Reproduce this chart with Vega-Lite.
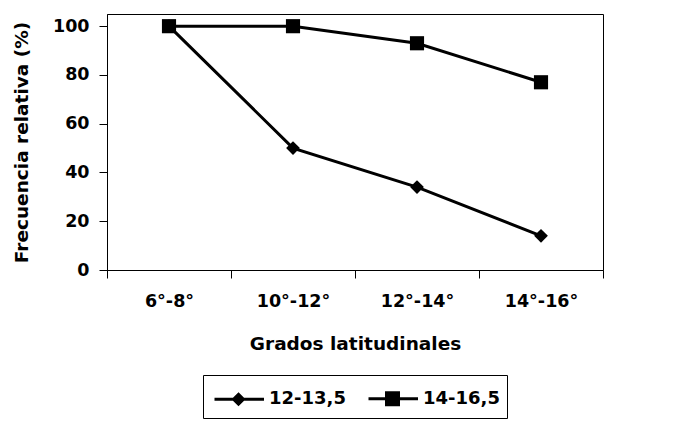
{
  "$schema": "https://vega.github.io/schema/vega-lite/v6.json",
  "width": 496,
  "height": 256,
  "padding": {"left": 12, "top": 14, "right": 5, "bottom": 0},
  "background": "white",
  "config": {
    "font": "DejaVu Sans",
    "view": {"stroke": "black", "strokeWidth": 1},
    "axis": {
      "labelFont": "DejaVu Sans", "labelFontWeight": "bold", "labelFontSize": 17.5, "labelColor": "black",
      "titleFont": "DejaVu Sans", "titleFontWeight": "bold", "titleFontSize": 18.5, "titleColor": "black",
      "domainColor": "black", "tickColor": "black", "grid": false
    },
    "legend": {
      "labelFont": "DejaVu Sans", "labelFontWeight": "bold", "labelFontSize": 18, "labelColor": "black",
      "layout": {"bottom": {"anchor": "middle"}}
    }
  },
  "data": {
    "values": [
      {"grado": "6°-8°", "serie": "12-13,5", "valor": 100},
      {"grado": "10°-12°", "serie": "12-13,5", "valor": 50},
      {"grado": "12°-14°", "serie": "12-13,5", "valor": 34},
      {"grado": "14°-16°", "serie": "12-13,5", "valor": 14},
      {"grado": "6°-8°", "serie": "14-16,5", "valor": 100},
      {"grado": "10°-12°", "serie": "14-16,5", "valor": 100},
      {"grado": "12°-14°", "serie": "14-16,5", "valor": 93},
      {"grado": "14°-16°", "serie": "14-16,5", "valor": 77}
    ]
  },
  "encoding": {
    "x": {
      "field": "grado", "type": "ordinal", "sort": null,
      "scale": {"type": "band", "paddingInner": 0, "paddingOuter": 0},
      "axis": {"title": "Grados latitudinales", "labelAngle": 0, "tickBand": "extent", "tickSize": 8, "labelPadding": 14, "titlePadding": 25}
    },
    "y": {
      "field": "valor", "type": "quantitative",
      "scale": {"domain": [0, 105], "nice": false},
      "axis": {"title": "Frecuencia relativa (%)", "values": [0, 20, 40, 60, 80, 100], "tickSize": 8, "labelPadding": 10, "titlePadding": 21}
    }
  },
  "resolve": {"scale": {"shape": "independent"}, "legend": {"shape": "independent"}},
  "layer": [
    {
      "mark": {"type": "point", "filled": false, "color": "black", "strokeWidth": 2.5, "size": 1, "opacity": 1},
      "encoding": {
        "shape": {
          "field": "serie", "type": "nominal",
          "scale": {
            "domain": ["12-13,5", "14-16,5"],
            "range": [
              "M-0.8,0H2.5M0.8,-0.33L1.13,0L0.8,0.33L0.47,0ZM0.8,-0.2L1,0L0.8,0.2L0.6,0ZM0.8,-0.07L0.87,0L0.8,0.07L0.73,0Z",
              "M-0.8,0H2.5M0.4,-0.4H1.2V0.4H0.4ZM0.53,-0.27H1.07V0.27H0.53ZM0.67,-0.13H0.93V0.13H0.67Z"
            ]
          },
          "legend": {
            "title": null, "orient": "bottom", "direction": "horizontal",
            "strokeColor": "black", "padding": 7, "offset": 22,
            "symbolSize": 900, "symbolStrokeWidth": 3, "symbolStrokeColor": "black", "symbolOpacity": 1,
            "columnPadding": 16, "labelOffset": 26
          }
        }
      }
    },
    {
      "mark": {"type": "line", "color": "black", "strokeWidth": 3},
      "encoding": {"detail": {"field": "serie"}}
    },
    {
      "mark": {"type": "point", "filled": true, "color": "black", "opacity": 1},
      "encoding": {
        "shape": {
          "field": "serie", "type": "nominal",
          "scale": {"domain": ["12-13,5", "14-16,5"], "range": ["diamond", "square"]},
          "legend": null
        },
        "size": {"condition": {"test": "datum.serie == '12-13,5'", "value": 190}, "value": 200}
      }
    }
  ]
}
